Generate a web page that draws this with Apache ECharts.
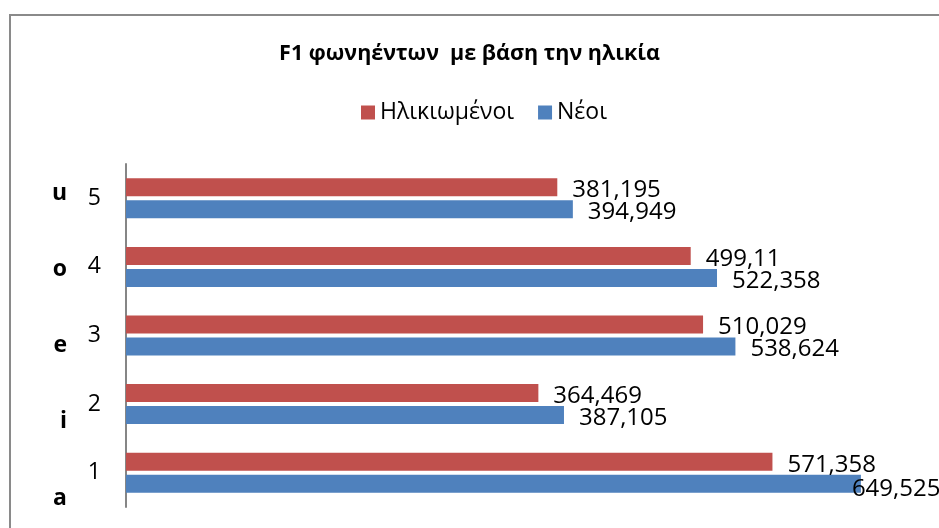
<!DOCTYPE html>
<html>
<head>
<meta charset="utf-8">
<script src="https://cdn.jsdelivr.net/npm/echarts@6/dist/echarts.min.js"></script>
<style>
html,body{margin:0;padding:0;background:#fff;overflow:hidden}
#wrap{position:relative;width:939px;height:528px;overflow:hidden}
#c{position:absolute;left:0;top:0;width:939px;height:528px}
#frame{position:absolute;left:9px;top:14px;width:1000px;height:600px;border-left:2px solid #8a8a8a;border-top:2px solid #8a8a8a;pointer-events:none}
</style>
</head>
<body>
<div id="wrap"><div id="c"></div><div id="frame"></div></div>
<script>
var titleText = 'F1 φωνηέντων  με βάση την ηλικία';
var categories = ['1', '2', '3', '4', '5'];
var vowels = ['a', 'i', 'e', 'o', 'u'];
var seriesNames = ['Ηλικιωμένοι', 'Νέοι'];
var elderly = [571.358, 364.469, 510.029, 499.11, 381.195];
var young = [649.525, 387.105, 538.624, 522.358, 394.949];

var FONT = '"Open Sans", "Noto Sans", sans-serif';
var chart = echarts.init(document.getElementById('c'));
function fmt(p) { return String(p.value).replace('.', ','); }
var youngData = young.map(function (v, i) {
  return i === 0 ? { value: v, label: { offset: [-24, 5] } } : v;
});
chart.setOption({
  backgroundColor: 'transparent',
  animation: false,
  title: {
    text: titleText, left: 'center', top: 38, padding: [5, 5, 5, 36],
    textStyle: { fontFamily: FONT, fontSize: 21.5, fontWeight: 'bold', color: '#000' }
  },
  legend: {
    data: seriesNames, left: 356, top: 96, itemWidth: 14, itemHeight: 14, itemGap: 24,
    icon: 'rect',
    textStyle: { fontFamily: FONT, fontSize: 23, color: '#000' }
  },
  grid: [
    { left: 126, top: 164, width: 792, height: 343 },
    { left: 126, top: 193, width: 792, height: 305 }
  ],
  xAxis: [
    { type: 'value', gridIndex: 0, min: 0, max: 700, show: false, splitLine: { show: false } },
    { type: 'value', gridIndex: 1, min: 0, max: 700, show: false, splitLine: { show: false } }
  ],
  yAxis: [
    {
      type: 'category', gridIndex: 0, data: categories,
      axisLine: { show: true, lineStyle: { color: '#868686', width: 2 } },
      axisTick: { show: false },
      axisLabel: { margin: 25, fontFamily: FONT, fontSize: 23, color: '#000', padding: [6, 0, 0, 0] }
    },
    {
      type: 'category', gridIndex: 1, data: vowels, boundaryGap: false,
      axisLine: { show: false }, axisTick: { show: false },
      axisLabel: { margin: 59, fontFamily: FONT, fontSize: 23, fontWeight: 'bold', color: '#000' }
    }
  ],
  series: [
    {
      name: seriesNames[0], type: 'bar', xAxisIndex: 0, yAxisIndex: 0,
      data: elderly, barWidth: 18, barGap: '22%',
      itemStyle: { color: '#C0504D' },
      label: { show: true, position: 'right', distance: 15, offset: [0, 3], formatter: fmt,
        fontFamily: FONT, fontSize: 24, color: '#000' }
    },
    {
      name: seriesNames[1], type: 'bar', xAxisIndex: 0, yAxisIndex: 0,
      data: youngData, barWidth: 18, barGap: '22%',
      itemStyle: { color: '#4F81BD' },
      label: { show: true, position: 'right', distance: 15, offset: [0, 3], formatter: fmt,
        fontFamily: FONT, fontSize: 24, color: '#000' }
    }
  ]
});
</script>
</body>
</html>
